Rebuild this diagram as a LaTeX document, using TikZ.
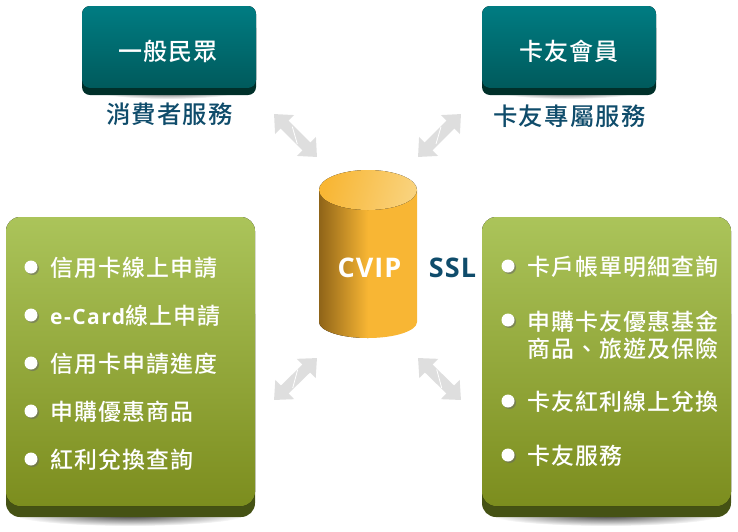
\documentclass[tikz,border=0pt]{standalone}
\usepackage{fontspec}
\usepackage{xcolor}
\setmainfont{Noto Sans CJK TC Medium}[LetterSpace=5]
\newfontfamily\latinfont{Open Sans}[LetterSpace=4]
\newfontfamily\itemlatin{Open Sans}[LetterSpace=7]
\usepackage{tikz}
\usetikzlibrary{arrows.meta,positioning,fadings}
\definecolor{tealtop}{HTML}{007C82}
\definecolor{tealbot}{HTML}{005A5C}
\definecolor{tealdark}{HTML}{00302A}
\definecolor{greentop}{HTML}{ABC45A}
\definecolor{greenbot}{HTML}{7C8D1E}
\definecolor{greendark}{HTML}{455214}
\definecolor{bluetext}{HTML}{0F4C6B}
\definecolor{cyltop}{HTML}{F8B634}
\definecolor{cyllight}{HTML}{F9D27C}
\definecolor{cyldark}{HTML}{8F6418}
\definecolor{arrgray}{HTML}{DEDEDE}
\tikzfading[name=shadowfade, inner color=transparent!25, outer color=transparent!100]
\begin{document}
\begin{tikzpicture}[x=1pt, y=-1pt,
  headlbl/.style={font=\fontsize{24}{24}\selectfont, text=white, inner sep=0pt},
  sublbl/.style={font=\fontsize{24.4}{24.4}\selectfont, text=bluetext, inner sep=0pt},
  itemlbl/.style={font=\fontsize{22.9}{27}\selectfont, text=white, inner sep=0pt, anchor=west, align=left},
  dot/.style={circle, fill=white, minimum size=13pt, inner sep=0pt},
  dotshade/.style={dot, fill=black!60, opacity=.55},
  arr/.style={{Triangle[width=26pt,length=15pt]}-{Triangle[width=26pt,length=15pt]}, line width=11pt, draw=arrgray},
  gap/.style={draw=white, line width=.8pt}]
\useasboundingbox (0,0) rectangle (738,531);
% shadows under boxes
\fill[black, path fading=shadowfade] (168,90) ellipse (75 and 9);
\fill[black, path fading=shadowfade] (568,90) ellipse (75 and 9);
\fill[black, path fading=shadowfade] (130,515) ellipse (115 and 11);
\fill[black, path fading=shadowfade] (606,515) ellipse (115 and 11);
% top boxes
\fill[tealdark, rounded corners=8pt] (82,20) rectangle (256,95);
\fill[tealdark, rounded corners=8pt] (482,20) rectangle (656,95);
\fill[top color=tealtop, bottom color=tealbot, rounded corners=8pt] (82,6) rectangle (256,88);
\fill[top color=tealtop, bottom color=tealbot, rounded corners=8pt] (482,6) rectangle (656,88);
\node[headlbl] (pub) at (168,51) {一般民眾};
\node[headlbl] (mem) at (569,51) {卡友會員};
\node[sublbl] (pubsvc) at (169.5,114) {消費者服務};
\node[sublbl] (memsvc) at (569.5,116) {卡友專屬服務};
% green panels
\fill[greendark, rounded corners=14pt] (6,300) rectangle (255,517);
\fill[greendark, rounded corners=14pt] (482,300) rectangle (731,517);
\fill[top color=greentop, bottom color=greenbot, rounded corners=14pt] (6,217) rectangle (255,506);
\fill[top color=greentop, bottom color=greenbot, rounded corners=14pt] (482,217) rectangle (731,506);
% cylinder
\fill[left color=cyldark, right color=cyltop] (319,190) -- (319,322) arc[start angle=180, end angle=270, x radius=49, y radius=-16] -- (368,190) -- cycle;
\fill[cyltop] (367.5,190) -- (367.5,338) -- (368,338) arc[start angle=270, end angle=360, x radius=49, y radius=-16] -- (417,190) -- cycle;
\fill[left color=cyltop, right color=cyllight, shading angle=75] (368,190) ellipse (49 and 20);
\node[font=\latinfont\fontsize{27}{27}\selectfont\bfseries, text=white, inner sep=0pt] (cvip) at (369.5,268) {CVIP};
\node[font=\latinfont\fontsize{27}{27}\selectfont\bfseries, text=bluetext, inner sep=0pt] (ssl) at (452.5,268) {SSL};
% left list
\foreach \y/\t [count=\n] in {268/信用卡線上申請, 316/{\itemlatin\fontsize{21}{27}\selectfont\bfseries e-Card}線上申請, 364/信用卡申請進度, 412/申購優惠商品, 460/紅利兌換查詢}{
  \node[dotshade] at (32.5,\y+.5) {};
  \node[dot] (ldot\n) at (31,\y-1) {};
  \node[itemlbl] (litem\n) at (50,\y) {\t};
}
% right list
\foreach \y/\dy/\t [count=\n] in {267/0/卡戶帳單明細查詢, 321/14/申購卡友優惠基金\\商品、旅遊及保險, 402/0/卡友紅利線上兌換, 456/0/卡友服務}{
  \node[dotshade] at (509.5,\y+.5) {};
  \node[dot] (rdot\n) at (508,\y-1) {};
  \node[itemlbl] (ritem\n) at (527,\y+\dy) {\t};
}
% arrows
\coordinate (a1s) at (274,114); \coordinate (a1e) at (317,157);
\coordinate (a2s) at (461,114); \coordinate (a2e) at (418,157);
\coordinate (a3s) at (274,400); \coordinate (a3e) at (317,358);
\coordinate (a4s) at (461,400); \coordinate (a4e) at (418,358);
\foreach \s/\e in {a1s/a1e,a2s/a2e,a3s/a3e,a4s/a4e}
  \draw[arr] (\s) -- (\e);
\draw[gap] (292.3,126.7) -- (297.3,144);
\draw[gap] (441,126.7) -- (436,144);
\draw[gap] (297.7,369.5) -- (292.7,388);
\draw[gap] (436.7,369.5) -- (441.7,388);
\end{tikzpicture}
\end{document}
